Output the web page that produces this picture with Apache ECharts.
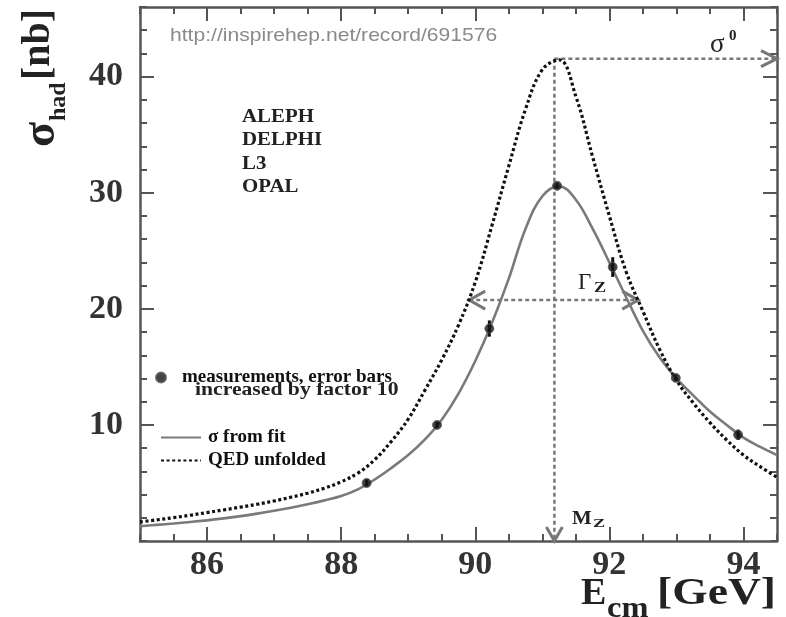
<!DOCTYPE html>
<html>
<head>
<meta charset="utf-8">
<script src="https://cdn.jsdelivr.net/npm/echarts@6/dist/echarts.min.js"></script>
<style>
  html, body { margin: 0; padding: 0; background: #fff; }
  #chart { width: 786px; height: 617px; }
</style>
</head>
<body>
<div id="chart"></div>
<script>
// Hadronic cross-section around the Z pole: LEP measurements, fitted line shape
// and the line shape with QED radiation removed.

// Energy grid (GeV) on which both line shapes are tabulated, 0.25 GeV steps
const curveEnergy = [85.0, 85.25, 85.5, 85.75, 86.0, 86.25, 86.5, 86.75, 87.0, 87.25, 87.5, 87.75,
                     88.0, 88.25, 88.5, 88.75, 89.0, 89.25, 89.5, 89.75, 90.0, 90.25, 90.5, 90.75,
                     91.0, 91.25, 91.5, 91.75, 92.0, 92.25, 92.5, 92.75, 93.0, 93.25, 93.5, 93.75,
                     94.0, 94.25, 94.5];

// Fitted cross-section (nb)
const fitSigma = [1.27, 1.39, 1.51, 1.64, 1.78, 1.95, 2.14, 2.36, 2.6, 2.87, 3.17, 3.5,
                  3.88, 4.45, 5.3, 6.3, 7.4, 8.75, 10.45, 12.7, 15.5, 18.8, 22.6, 26.9,
                  29.7, 30.55, 29.4, 26.9, 24.0, 21.0, 18.1, 15.8, 14.0, 12.55, 11.15, 10.0,
                  8.9, 8.1, 7.4];

// Cross-section with initial-state radiation unfolded (nb)
const qedSigma = [1.64, 1.82, 2.01, 2.22, 2.45, 2.68, 2.92, 3.17, 3.45, 3.77, 4.12, 4.55,
                  5.1, 5.85, 7.0, 8.6, 10.5, 13.0, 15.6, 18.6, 22.3, 27.2, 32.3, 37.2,
                  40.6, 41.45, 38.3, 33.1, 28.0, 23.2, 19.8, 16.5, 13.85, 11.9, 10.2, 8.7,
                  7.4, 6.4, 5.5];

// Combined measurements (error bars enlarged tenfold)
const measEnergy = [88.38, 89.43, 90.21, 91.22, 92.05, 92.99, 93.92];
const measSigma  = [5.0, 10.0, 18.3, 30.6, 23.6, 14.05, 9.15];
const measError  = [0.3, 0.25, 0.7, 0.25, 0.85, 0.25, 0.45];

// Axis ranges and labelled ticks
const xRange = [85, 94.5];
const yRange = [0, 46];
const xMajorTicks = [86, 88, 90, 92, 94];
const yMajorTicks = [10, 20, 30, 40];

// Line-shape parameters marked on the plot
const massZ = 91.18;
const peakSigma0 = 41.55;
const widthEdges = [89.91, 92.43];
const halfMax = 20.75;

const experiments = ['ALEPH', 'DELPHI', 'L3', 'OPAL'];

const zip = (xs, ys) => xs.map((x, i) => [x, ys[i]]);

const frameColor = '#555';
const serif = "'Liberation Serif', 'Times New Roman', serif";
const grey = '#777';

function baseAxis(position, extra) {
  const vertical = position === 'left' || position === 'right';
  return Object.assign({
    type: 'value',
    position: position,
    min: vertical ? yRange[0] : xRange[0],
    max: vertical ? yRange[1] : xRange[1],
    axisLine: { show: false, onZero: false },
    axisTick: { show: false },
    axisLabel: { show: false },
    splitLine: { show: false }
  }, extra);
}

// minor ticks on every side, plus long ticks at the labelled values
const minorTick = len => ({ show: true, inside: true, length: len, lineStyle: { color: frameColor, width: 2 } });
const majorTick = vals => ({ show: true, inside: true, length: 14, customValues: vals, lineStyle: { color: frameColor, width: 2 } });
const frameLine = { show: true, onZero: false, lineStyle: { color: frameColor, width: 2.5 } };
const tickLabel = { color: '#333', fontFamily: serif, fontWeight: 'bold', fontSize: 34 };

const xAxes = [
  baseAxis('bottom', { interval: 0.5, axisLine: frameLine, axisTick: minorTick(7),
    axisLabel: Object.assign({ show: true, customValues: xMajorTicks, margin: 7 }, tickLabel) }),
  baseAxis('bottom', { axisTick: majorTick(xMajorTicks) }),
  baseAxis('top', { interval: 0.5, axisLine: frameLine, axisTick: minorTick(7) }),
  baseAxis('top', { axisTick: majorTick(xMajorTicks) })
];
const yAxes = [
  baseAxis('left', { interval: 2, axisLine: frameLine, axisTick: minorTick(7),
    axisLabel: Object.assign({ show: true, customValues: yMajorTicks, margin: 17 }, tickLabel) }),
  baseAxis('left', { axisTick: majorTick(yMajorTicks) }),
  baseAxis('right', { interval: 2, axisLine: frameLine, axisTick: minorTick(7) }),
  baseAxis('right', { axisTick: majorTick(yMajorTicks) })
];

// open arrow head drawn as a polyline ending at the tip
function chevron(tip, dir, len, half) {
  const bx = tip[0] - dir[0] * len, by = tip[1] - dir[1] * len;
  const px = -dir[1] * half, py = dir[0] * half;
  return [[bx + px, by + py], tip, [bx - px, by - py]];
}

function renderMarkers(params, api) {
  const peak = api.coord([massZ, peakSigma0]);
  const right = api.coord([xRange[1], peakSigma0]);
  const bottom = api.coord([massZ, yRange[0]]);
  const gl = api.coord([widthEdges[0], halfMax]);
  const gr = api.coord([widthEdges[1], halfMax]);
  const dash = { stroke: grey, lineWidth: 2.5, lineDash: [4, 3], fill: null };
  const head = { stroke: grey, lineWidth: 3, fill: null };
  return {
    type: 'group',
    children: [
      { type: 'line', shape: { x1: peak[0], y1: peak[1], x2: right[0] - 2, y2: right[1] }, style: dash },
      { type: 'line', shape: { x1: peak[0], y1: peak[1], x2: bottom[0], y2: bottom[1] - 2 }, style: dash },
      { type: 'line', shape: { x1: gl[0], y1: gl[1], x2: gr[0], y2: gr[1] }, style: dash },
      { type: 'polyline', shape: { points: chevron(right, [1, 0], 16, 8) }, style: head },
      { type: 'polyline', shape: { points: chevron(bottom, [0, 1], 14, 8) }, style: head },
      { type: 'polyline', shape: { points: chevron(gl, [-1, 0], 16, 9) }, style: head },
      { type: 'polyline', shape: { points: chevron(gr, [1, 0], 16, 9) }, style: head }
    ]
  };
}

function renderErrorBar(params, api) {
  const lo = api.coord([api.value(0), api.value(1)]);
  const hi = api.coord([api.value(0), api.value(2)]);
  return { type: 'line', shape: { x1: lo[0], y1: lo[1], x2: hi[0], y2: hi[1] },
           style: { stroke: '#111', lineWidth: 3 } };
}

const legendText = { color: '#111', fontFamily: serif, fontWeight: 'bold', fontSize: 19 };
const hiddenSymbol = { opacity: 0, color: 'rgba(0,0,0,0)', borderWidth: 0 };

function txt(x, y, text, font, extra) {
  return Object.assign({
    type: 'text', x: x, y: y,
    style: { text: text, font: font, fill: '#222', align: 'left', textAlign: 'left',
             verticalAlign: 'middle', textVerticalAlign: 'middle' }
  }, extra || {});
}

const chart = echarts.init(document.getElementById('chart'), null, { renderer: 'canvas' });

chart.setOption({
  backgroundColor: '#fff',
  animation: false,
  grid: { left: 140, right: 9, top: 7, bottom: 76, containLabel: false, outerBoundsMode: 'none' },
  xAxis: xAxes,
  yAxis: yAxes,
  legend: [
    { data: ['measurements'], selectedMode: false, padding: 0, left: 155, top: 368, itemWidth: 10, itemHeight: 10,
      icon: 'circle', formatter: () => 'measurements, error bars',
      textStyle: Object.assign({ padding: [0, 0, 0, 11] }, legendText) },
    { data: ['σ from fit'], selectedMode: false, padding: 0, left: 160, top: 428, itemWidth: 40, itemHeight: 14,
      itemStyle: hiddenSymbol, textStyle: Object.assign({ padding: [0, 0, 0, 2] }, legendText) },
    { data: ['QED unfolded'], selectedMode: false, padding: 0, left: 160, top: 451, itemWidth: 40, itemHeight: 14,
      itemStyle: hiddenSymbol, textStyle: Object.assign({ padding: [0, 0, 0, 2] }, legendText) }
  ],
  series: [
    {
      name: 'markers', type: 'custom', silent: true, z: 1,
      data: [[massZ, peakSigma0]],
      renderItem: renderMarkers
    },
    {
      name: 'QED unfolded', type: 'line', z: 3,
      data: zip(curveEnergy, qedSigma),
      smooth: 0.4, showSymbol: false, symbol: 'none',
      lineStyle: { color: '#111', width: 3.2, type: [3, 2.6] },
      itemStyle: { color: '#111' }
    },
    {
      name: 'σ from fit', type: 'line', z: 2,
      data: zip(curveEnergy, fitSigma),
      smooth: 0.4, showSymbol: false, symbol: 'none',
      lineStyle: { color: '#7a7a7a', width: 2.6 },
      itemStyle: { color: '#7a7a7a' }
    },
    {
      name: 'error bars', type: 'custom', z: 4, silent: true,
      data: measEnergy.map((e, i) => [e, measSigma[i] - measError[i], measSigma[i] + measError[i]]),
      renderItem: renderErrorBar
    },
    {
      name: 'measurements', type: 'scatter', z: 5,
      data: zip(measEnergy, measSigma),
      symbol: 'circle', symbolSize: 9,
      itemStyle: { color: '#151515', borderColor: '#555', borderWidth: 1 }
    }
  ],
  graphic: [
    {
      type: 'text', x: 170, y: 36, scaleX: 1.14,
      style: { text: 'http://inspirehep.net/record/691576', font: "18.5px 'Liberation Sans', Arial, sans-serif",
               fill: '#8a8a8a', align: 'left', textAlign: 'left', verticalAlign: 'middle', textVerticalAlign: 'middle' }
    },
    // experiment list
    ...experiments.map((name, i) => txt(242, 117 + i * 23.4, name, "bold 19px " + serif, { scaleX: 1.1 })),
    // second line of the measurement legend entry
    txt(195, 390, 'increased by factor 10', "bold 19px " + serif, { scaleX: 1.14 }),
    // sigma-zero, Gamma_Z, M_Z labels
    txt(710, 45, 'σ', "27px " + serif),
    txt(729, 36, '0', "bold 15px " + serif),
    txt(578, 283, 'Γ', "23px " + serif),
    txt(594, 288, 'Z', "bold 14px " + serif, { scaleX: 1.3 }),
    txt(572, 519, 'M', "bold 19px " + serif, { scaleX: 1.1 }),
    txt(593, 524, 'Z', "bold 13px " + serif, { scaleX: 1.4 }),
    // x-axis title
    txt(581, 594, 'E', "bold 38px " + serif),
    txt(607, 609, 'cm', "bold 30px " + serif, { scaleX: 1.08 }),
    txt(657, 594, '[GeV]', "bold 38px " + serif, { scaleX: 1.2 }),
    // y-axis title, written bottom to top
    {
      type: 'group', x: 0, y: 148, rotation: Math.PI / 2,
      children: [
        txt(1, 42, 'σ', "bold 46px " + serif),
        txt(27, 59, 'had', "bold 24px " + serif),
        txt(68, 39, '[nb]', "bold 40px " + serif)
      ]
    }
  ]
});
</script>
</body>
</html>
